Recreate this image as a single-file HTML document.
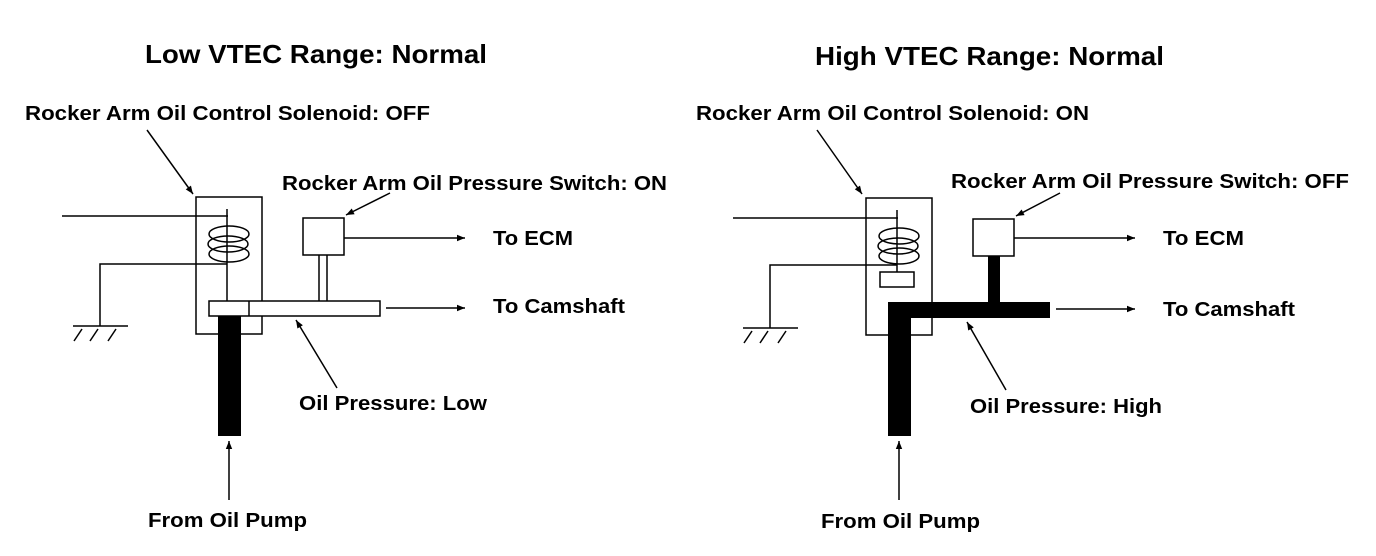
<!DOCTYPE html>
<html><head><style>body{margin:0;background:#fff}svg{display:block}</style></head><body>
<svg width="1376" height="556" viewBox="0 0 1376 556" xmlns="http://www.w3.org/2000/svg">
<defs><marker id="a" viewBox="0 0 10 10" refX="10" refY="5" markerWidth="10" markerHeight="8" orient="auto" markerUnits="userSpaceOnUse"><path d="M0,1L10,5L0,9z" fill="#000"/></marker></defs>
<g font-family="Liberation Sans, sans-serif" font-weight="bold" fill="#000">
<text x="145" y="63" font-size="26" textLength="342" lengthAdjust="spacingAndGlyphs">Low VTEC Range: Normal</text>
<text x="25" y="120" font-size="20" textLength="405" lengthAdjust="spacingAndGlyphs">Rocker Arm Oil Control Solenoid: OFF</text>
<text x="282" y="190" font-size="20" textLength="385" lengthAdjust="spacingAndGlyphs">Rocker Arm Oil Pressure Switch: ON</text>
<text x="493" y="245" font-size="20" textLength="80" lengthAdjust="spacingAndGlyphs">To ECM</text>
<text x="493" y="313" font-size="20" textLength="132" lengthAdjust="spacingAndGlyphs">To Camshaft</text>
<text x="299" y="410" font-size="20" textLength="188" lengthAdjust="spacingAndGlyphs">Oil Pressure: Low</text>
<text x="148" y="527" font-size="20" textLength="159" lengthAdjust="spacingAndGlyphs">From Oil Pump</text>
<text x="815" y="65" font-size="26" textLength="349" lengthAdjust="spacingAndGlyphs">High VTEC Range: Normal</text>
<text x="696" y="120" font-size="20" textLength="393" lengthAdjust="spacingAndGlyphs">Rocker Arm Oil Control Solenoid: ON</text>
<text x="951" y="188" font-size="20" textLength="398" lengthAdjust="spacingAndGlyphs">Rocker Arm Oil Pressure Switch: OFF</text>
<text x="1163" y="245" font-size="20" textLength="81" lengthAdjust="spacingAndGlyphs">To ECM</text>
<text x="1163" y="316" font-size="20" textLength="132" lengthAdjust="spacingAndGlyphs">To Camshaft</text>
<text x="970" y="413" font-size="20" textLength="192" lengthAdjust="spacingAndGlyphs">Oil Pressure: High</text>
<text x="821" y="528" font-size="20" textLength="159" lengthAdjust="spacingAndGlyphs">From Oil Pump</text>
</g>
<g stroke="#000" fill="none" stroke-width="1.5">
<rect x="196" y="197" width="66" height="137" fill="#fff"/>
<line x1="62" y1="216" x2="228" y2="216"/>
<line x1="227" y1="209" x2="227" y2="302"/>
<ellipse cx="229" cy="234" rx="20" ry="8"/>
<ellipse cx="228" cy="244" rx="20" ry="8"/>
<ellipse cx="229" cy="254" rx="20" ry="8"/>
<polyline points="227,264 100,264 100,326"/>
<line x1="73" y1="326" x2="128" y2="326"/>
<line x1="82" y1="329" x2="74" y2="341"/><line x1="98" y1="329" x2="90" y2="341"/><line x1="116" y1="329" x2="108" y2="341"/>
<rect x="303" y="218" width="41" height="37" fill="#fff"/>
<line x1="319" y1="255" x2="319" y2="301"/><line x1="327" y1="255" x2="327" y2="301"/>
<rect x="209" y="301" width="171" height="15" fill="#fff"/>
<line x1="249" y1="301" x2="249" y2="316"/>
<line x1="344" y1="238" x2="465" y2="238" marker-end="url(#a)"/>
<line x1="386" y1="308" x2="465" y2="308" marker-end="url(#a)"/>
<line x1="337" y1="388" x2="296" y2="320" marker-end="url(#a)"/>
<line x1="229" y1="500" x2="229" y2="441" marker-end="url(#a)"/>
<line x1="147" y1="130" x2="193" y2="194" marker-end="url(#a)"/>
<line x1="390" y1="193" x2="346" y2="215" marker-end="url(#a)"/>
<rect x="866" y="198" width="66" height="137" fill="#fff"/>
<line x1="733" y1="218" x2="898" y2="218"/>
<line x1="897" y1="210" x2="897" y2="272"/>
<ellipse cx="899" cy="236" rx="20" ry="8"/>
<ellipse cx="898" cy="246" rx="20" ry="8"/>
<ellipse cx="899" cy="256" rx="20" ry="8"/>
<polyline points="897,265 770,265 770,328"/>
<line x1="743" y1="328" x2="798" y2="328"/>
<line x1="752" y1="331" x2="744" y2="343"/><line x1="768" y1="331" x2="760" y2="343"/><line x1="786" y1="331" x2="778" y2="343"/>
<rect x="880" y="272" width="34" height="15" fill="#fff"/>
<rect x="973" y="219" width="41" height="37" fill="#fff"/>
<line x1="1014" y1="238" x2="1135" y2="238" marker-end="url(#a)"/>
<line x1="1056" y1="309" x2="1135" y2="309" marker-end="url(#a)"/>
<line x1="1006" y1="390" x2="967" y2="322" marker-end="url(#a)"/>
<line x1="899" y1="500" x2="899" y2="441" marker-end="url(#a)"/>
<line x1="817" y1="130" x2="862" y2="194" marker-end="url(#a)"/>
<line x1="1060" y1="193" x2="1016" y2="216" marker-end="url(#a)"/>
</g>
<g fill="#000">
<rect x="218" y="316" width="23" height="120"/>
<rect x="888" y="302" width="23" height="134"/>
<rect x="888" y="302" width="162" height="16"/>
<rect x="988" y="256" width="12" height="46"/>
</g>
</svg>
</body></html>
